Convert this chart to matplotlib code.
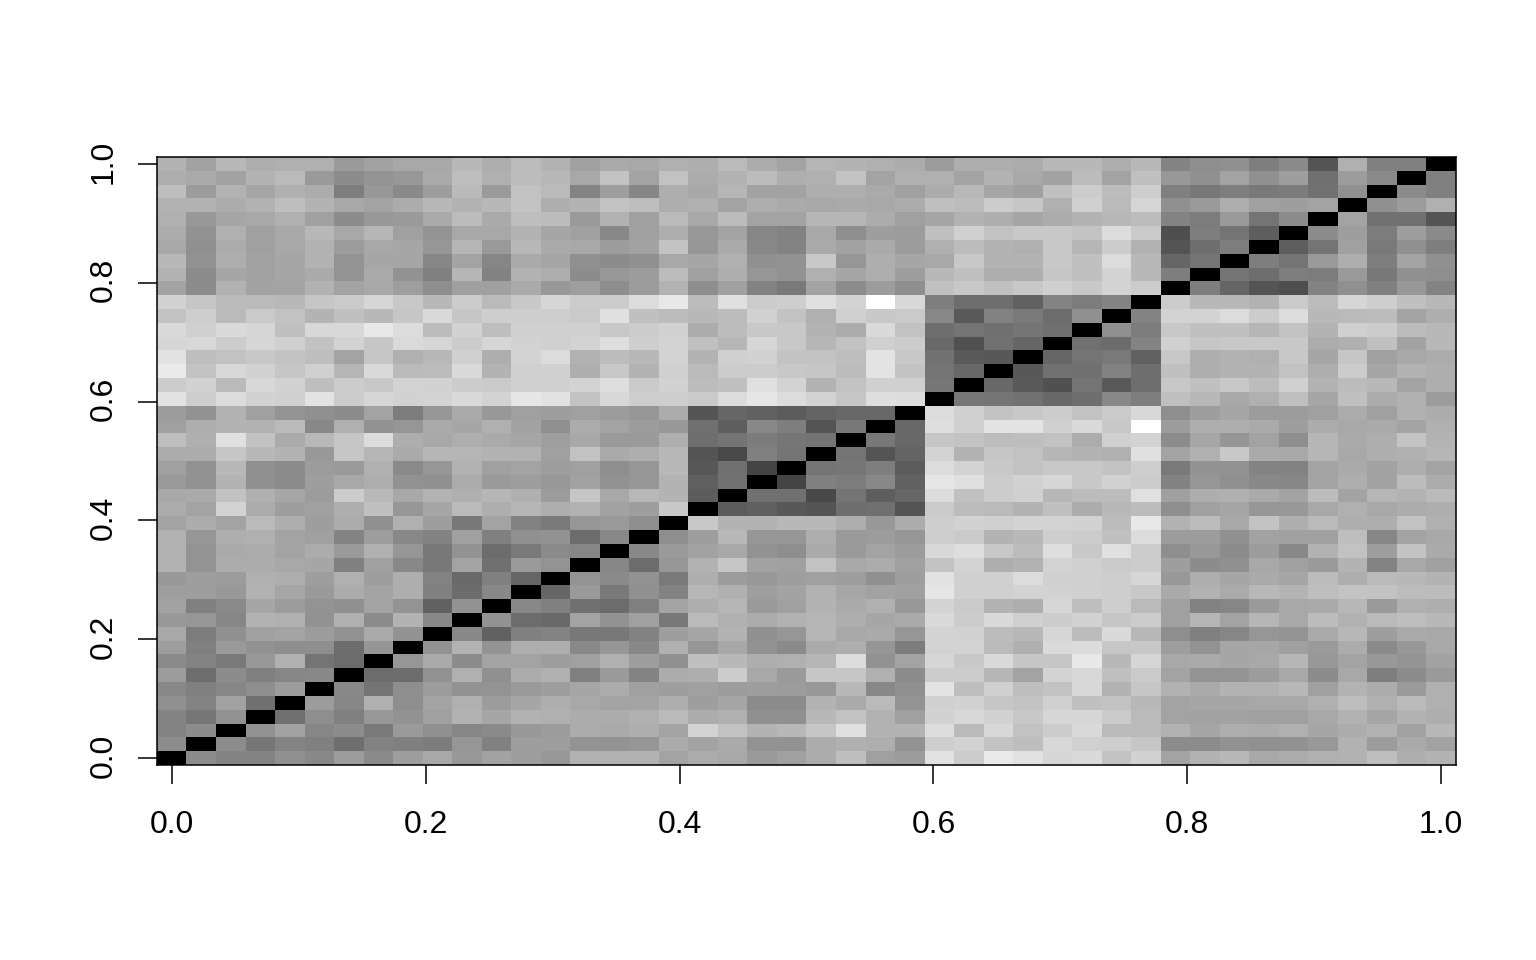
# symmetric similarity matrix drawn as a grey image
import matplotlib.pyplot as plt
import matplotlib.transforms as mtrans
import numpy as np

plt.rcParams["font.family"] = ["Liberation Sans", "DejaVu Sans"]

TICKS = [0.0, 0.2, 0.4, 0.6, 0.8, 1.0]
TICK_LABELS = ["0.0", "0.2", "0.4", "0.6", "0.8", "1.0"]

# grey level (0-255) below the diagonal, row r holds columns 0..r-1, r = 1..43
GREY_ROWS = [
    [140],
    [132, 140],
    [132, 118, 146],
    [144, 132, 162, 112],
    [136, 128, 134, 142, 156],
    [156, 110, 140, 128, 134, 136],
    [138, 132, 122, 152, 176, 116, 108],
    [158, 128, 154, 146, 142, 142, 108, 150],
    [168, 124, 144, 160, 164, 156, 146, 170, 146],
    [152, 150, 134, 178, 176, 146, 176, 140, 180, 136],
    [162, 128, 138, 166, 156, 148, 144, 164, 148, 98, 146],
    [158, 158, 152, 178, 166, 154, 172, 164, 174, 128, 108, 136],
    [152, 158, 156, 176, 174, 158, 176, 158, 174, 132, 106, 128, 102],
    [178, 148, 172, 172, 168, 166, 128, 160, 136, 120, 164, 112, 154, 148],
    [178, 148, 170, 172, 164, 172, 154, 176, 150, 120, 146, 108, 122, 138, 134],
    [178, 150, 174, 176, 164, 160, 132, 158, 136, 130, 160, 128, 144, 146, 108, 136],
    [164, 172, 164, 186, 174, 158, 172, 144, 176, 158, 120, 164, 130, 122, 150, 154, 142],
    [172, 164, 212, 172, 158, 160, 174, 192, 150, 166, 186, 174, 182, 174, 178, 162, 158, 200],
    [168, 170, 194, 176, 166, 156, 204, 184, 168, 180, 176, 182, 176, 156, 198, 168, 184, 180, 92],
    [154, 146, 180, 144, 140, 158, 168, 174, 146, 144, 172, 154, 158, 152, 162, 146, 150, 180, 96, 114],
    [160, 146, 184, 144, 140, 156, 154, 176, 138, 150, 178, 160, 164, 158, 160, 142, 150, 184, 88, 112, 68],
    [172, 172, 198, 184, 180, 152, 198, 182, 170, 182, 182, 180, 178, 160, 194, 170, 174, 184, 84, 72, 128, 116],
    [190, 176, 224, 194, 170, 184, 198, 220, 174, 168, 174, 170, 166, 158, 168, 154, 154, 174, 110, 116, 124, 118, 116],
    [160, 174, 180, 178, 186, 136, 176, 146, 150, 170, 166, 176, 162, 144, 172, 164, 156, 152, 112, 94, 136, 126, 84, 120],
    [156, 146, 180, 160, 148, 144, 140, 164, 124, 150, 170, 152, 160, 158, 160, 156, 150, 172, 84, 102, 98, 92, 100, 104, 104],
    [226, 206, 220, 210, 208, 228, 204, 214, 210, 212, 218, 212, 230, 226, 196, 216, 206, 206, 202, 220, 230, 220, 212, 198, 222, 220],
    [204, 210, 186, 216, 210, 190, 204, 200, 212, 210, 204, 202, 208, 208, 212, 222, 202, 210, 188, 192, 224, 212, 180, 196, 208, 208, 118],
    [234, 196, 216, 210, 198, 208, 182, 218, 186, 188, 218, 180, 208, 208, 174, 200, 180, 208, 186, 204, 204, 200, 198, 188, 228, 196, 116, 104],
    [226, 190, 194, 200, 196, 190, 164, 198, 176, 184, 208, 174, 212, 220, 178, 188, 184, 212, 180, 208, 210, 196, 194, 190, 228, 200, 114, 90, 88],
    [214, 216, 204, 214, 208, 194, 212, 198, 218, 214, 204, 214, 210, 208, 212, 222, 206, 212, 192, 182, 214, 200, 182, 194, 208, 204, 104, 80, 114, 102],
    [218, 208, 218, 214, 192, 216, 216, 232, 220, 188, 210, 190, 208, 208, 208, 200, 204, 210, 172, 188, 200, 200, 180, 172, 218, 194, 110, 116, 112, 116, 112],
    [196, 206, 186, 202, 194, 180, 192, 184, 198, 218, 198, 206, 206, 206, 202, 224, 192, 188, 184, 188, 210, 196, 176, 208, 200, 202, 136, 90, 130, 122, 108, 144],
    [210, 198, 186, 186, 184, 198, 202, 214, 200, 184, 204, 186, 200, 214, 204, 204, 220, 232, 188, 224, 204, 206, 224, 212, 255, 216, 126, 110, 110, 98, 132, 124, 132],
    [164, 140, 178, 164, 164, 178, 164, 168, 158, 142, 160, 160, 170, 152, 158, 142, 156, 178, 142, 160, 130, 122, 164, 140, 156, 142, 192, 200, 192, 200, 208, 200, 212, 204],
    [178, 140, 166, 162, 166, 170, 148, 170, 146, 128, 182, 130, 178, 174, 140, 152, 156, 188, 160, 174, 150, 146, 176, 166, 174, 158, 184, 192, 174, 174, 198, 192, 212, 184, 126],
    [184, 146, 174, 162, 166, 180, 148, 166, 166, 134, 164, 134, 170, 166, 144, 140, 144, 168, 166, 176, 144, 146, 200, 150, 174, 166, 168, 200, 180, 180, 200, 192, 220, 184, 102, 116],
    [168, 144, 172, 160, 168, 178, 156, 168, 166, 150, 182, 154, 184, 170, 168, 156, 162, 196, 150, 170, 136, 132, 170, 162, 170, 156, 176, 188, 180, 176, 200, 182, 204, 178, 84, 110, 126],
    [172, 146, 176, 160, 168, 184, 168, 182, 160, 148, 168, 168, 180, 166, 160, 136, 160, 174, 152, 164, 134, 130, 168, 142, 158, 156, 192, 208, 194, 200, 200, 196, 220, 202, 78, 126, 116, 94],
    [176, 152, 166, 168, 176, 160, 140, 152, 154, 170, 188, 170, 190, 188, 154, 178, 160, 186, 168, 188, 164, 164, 182, 182, 172, 160, 166, 180, 174, 166, 172, 180, 184, 188, 132, 124, 154, 116, 140],
    [178, 178, 172, 178, 190, 180, 168, 164, 172, 184, 178, 184, 196, 174, 180, 194, 190, 174, 176, 164, 174, 170, 168, 170, 168, 172, 192, 188, 204, 198, 176, 208, 186, 214, 144, 154, 174, 160, 158, 164],
    [190, 156, 178, 166, 176, 172, 126, 152, 138, 158, 186, 154, 194, 186, 132, 158, 134, 174, 168, 182, 162, 162, 174, 174, 170, 160, 172, 184, 166, 160, 192, 204, 188, 206, 128, 120, 126, 122, 124, 114, 144],
    [174, 170, 162, 180, 186, 154, 140, 148, 152, 170, 190, 176, 188, 184, 168, 196, 164, 194, 172, 178, 188, 174, 176, 196, 164, 176, 176, 164, 180, 168, 162, 188, 164, 192, 152, 144, 164, 144, 158, 112, 156, 138],
    [180, 162, 184, 174, 176, 176, 154, 162, 168, 168, 184, 174, 188, 180, 160, 170, 168, 176, 174, 186, 172, 164, 182, 180, 176, 172, 156, 174, 174, 172, 184, 184, 174, 184, 132, 142, 144, 126, 138, 84, 176, 128, 128],
]

# rebuild the full matrix, the diagonal stays black
n = len(GREY_ROWS) + 1
grey = np.zeros((n, n))
for r, row in enumerate(GREY_ROWS, start=1):
    grey[r, :r] = row
    grey[:r, r] = row

half = 0.5 / (n - 1)

fig = plt.figure(figsize=(15.36, 9.6), dpi=100)
ax = fig.add_axes([157 / 1536, 1 - 765 / 960, (1456 - 157) / 1536, (765 - 157) / 960])
ax.imshow(
    grey,
    cmap="gray",
    vmin=0,
    vmax=255,
    origin="lower",
    aspect="auto",
    interpolation="nearest",
    extent=(-half, 1 + half, -half, 1 + half),
)

ax.set_xticks(TICKS)
ax.set_xticklabels(TICK_LABELS)
ax.set_yticks(TICKS)
ax.set_yticklabels(TICK_LABELS, rotation=90, va="center")
ax.tick_params(axis="x", length=14, width=1.1, labelsize=23, pad=18.5)
ax.tick_params(axis="y", length=14, width=1.1, labelsize=23, pad=13.5)
for spine in ax.spines.values():
    spine.set_linewidth(1.1)

# nudge the rotated labels up so they sit centred on their ticks
nudge = mtrans.ScaledTranslation(0, 2.5 / 100, fig.dpi_scale_trans)
for label in ax.get_yticklabels():
    label.set_transform(label.get_transform() + nudge)

fig.savefig("out.png", dpi=100)
